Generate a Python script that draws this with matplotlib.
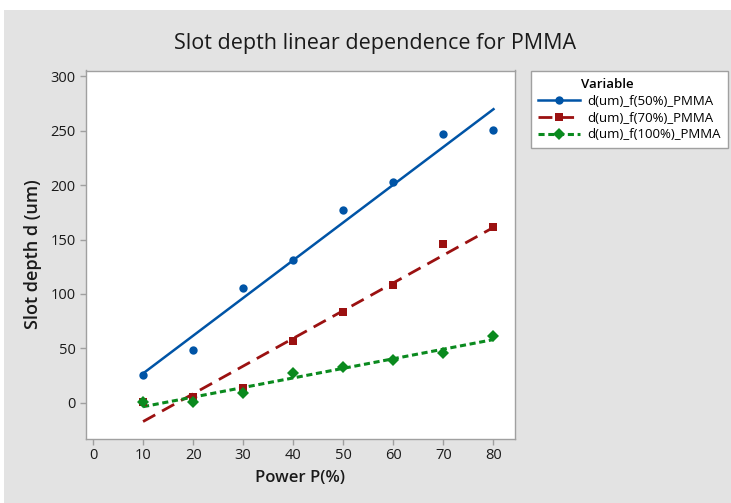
import numpy as np
import matplotlib.pyplot as plt
import matplotlib.patches as mpatches
from matplotlib.lines import Line2D

plt.rcParams['font.family'] = ['Open Sans', 'DejaVu Sans']

power = [10, 20, 30, 40, 50, 60, 70, 80]
depth_50 = [25, 48, 105, 131, 177, 203, 247, 251]
depth_70 = [1, 5, 13, 57, 83, 108, 146, 162]
depth_100 = [1, 1, 9, 27, 33, 39, 46, 61]
series_names = ['d(um)_f(50%)_PMMA', 'd(um)_f(70%)_PMMA', 'd(um)_f(100%)_PMMA']

W, H = 731, 503
fig = plt.figure(figsize=(W / 100, H / 100), dpi=100)
fig.patch.set_facecolor('white')
# grey panel (leaves thin white strip at top/left like the screenshot)
fig.patches.append(mpatches.Rectangle((4 / W, 0), 1 - 4 / W, (H - 10) / H,
                                      transform=fig.transFigure, facecolor='#e3e3e3',
                                      edgecolor='none', zorder=-5))

ax = fig.add_axes([85.5 / W, 1 - 438.5 / H, (514.5 - 85.5) / W, (438.5 - 70.5) / H])
ax.set_zorder(2)
ax.set_facecolor('white')
for s in ax.spines.values():
    s.set_color('#a0a0a0')
    s.set_linewidth(1.0)

styles = [
    dict(color='#0054a6', marker='o', ms=6, ls='-', lw=1.8),
    dict(color='#9b1111', marker='s', ms=6, ls=(0, (5, 2.8)), lw=2.0),
    dict(color='#0a8a1e', marker='D', ms=6, ls=(0, (2, 1.2)), lw=2.2),
]

x = np.array(power)
handles = []
for ys, st, name in zip([depth_50, depth_70, depth_100], styles, series_names):
    k, b = np.polyfit(x, ys, 1)
    xs = np.array([x.min(), x.max()])
    ax.plot(xs, k * xs + b, color=st['color'], ls=st['ls'], lw=st['lw'], zorder=2)
    ax.plot(x, ys, ls='none', marker=st['marker'], ms=st['ms'], color=st['color'],
            markeredgewidth=0, zorder=3)
    handles.append(Line2D([], [], color=st['color'], ls=st['ls'], lw=st['lw'],
                          marker=st['marker'], ms=st['ms'], markeredgewidth=0, label=name))

ax.set_xlim(-1.5, 84.2)
ax.set_ylim(-33, 305.5)
ax.set_xticks(range(0, 81, 10))
ax.set_yticks(range(0, 301, 50))
ax.tick_params(axis='both', direction='out', length=4, width=1, color='#a0a0a0',
               labelsize=10.5, labelcolor='#1a1a1a', pad=3)

ax.set_xlabel('Power P(%)', fontsize=12, fontweight='semibold', color='#1a1a1a', labelpad=5)
ax.set_ylabel('Slot depth d (um)', fontsize=13, fontweight='semibold', color='#1a1a1a', labelpad=6)
fig.text(375 / W, 1 - 43 / H, 'Slot depth linear dependence for PMMA', ha='center',
         va='center', fontsize=15.5, color='#1a1a1a')

leg = fig.legend(handles=handles, title='Variable', loc='upper left',
                 bbox_to_anchor=(531 / W, 1 - 71 / H), borderaxespad=0,
                 fontsize=9.5, title_fontsize=9.5,
                 frameon=True, fancybox=False, edgecolor='#a0a0a0', framealpha=1,
                 handlelength=3.2, handletextpad=0.6, borderpad=0.5, labelspacing=0.3)
leg.get_title().set_fontweight('semibold')
leg._legend_box.align = 'left'
leg.get_title().set_position((43, 0))

fig.savefig('out.png', dpi=100, facecolor=fig.get_facecolor())
